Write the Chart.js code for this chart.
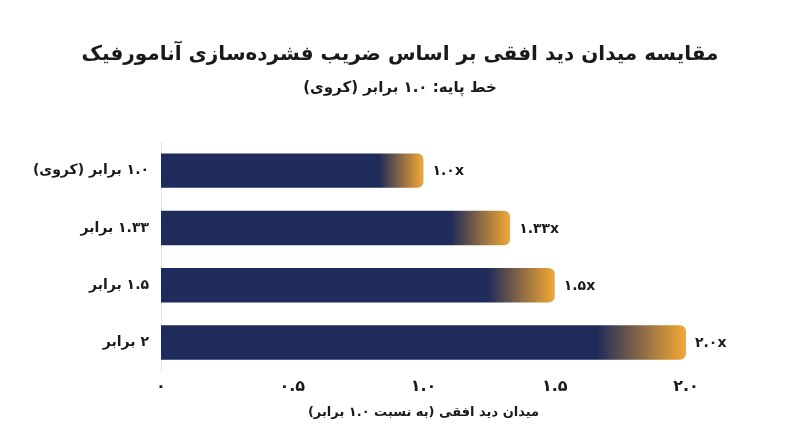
<!DOCTYPE html>
<html>
<head>
<meta charset="utf-8">
<script src="https://cdn.jsdelivr.net/npm/chart.js@4/dist/chart.umd.min.js"></script>
<style>
html,body{margin:0;padding:0;background:#fff;}
#wrap{width:800px;height:447px;}
</style>
</head>
<body>
<div id="wrap"><canvas id="c" dir="rtl"></canvas></div>
<script>
const categories = ['۱.۰ برابر (کروی)', '۱.۳۳ برابر', '۱.۵ برابر', '۲ برابر'];
const values = [1.0, 1.33, 1.5, 2.0];
const valueLabels = ['۱.۰x', '۱.۳۳x', '۱.۵x', '۲.۰x'];
const xTickValues = [0, 0.5, 1.0, 1.5, 2.0];
const xTickLabels = ['۰', '۰.۵', '۱.۰', '۱.۵', '۲.۰'];
const titleText = 'مقایسه میدان دید افقی بر اساس ضریب فشرده‌سازی آنامورفیک';
const subtitleText = 'خط پایه: ۱.۰ برابر (کروی)';
const xTitleText = 'میدان دید افقی (به نسبت ۱.۰ برابر)';

const NAVY = '#1f2b5a';
const ORANGE = '#f5a935';
const TEXT = '#1a1a1a';
const FONT = "'DejaVu Sans', sans-serif";

const valueLabelPlugin = {
  id: 'valueLabels',
  afterDatasetsDraw(chart) {
    const ctx = chart.ctx;
    const meta = chart.getDatasetMeta(0);
    ctx.save();
    ctx.direction = 'ltr';
    ctx.font = "bold 14px " + FONT;
    ctx.fillStyle = TEXT;
    ctx.textAlign = 'left';
    ctx.textBaseline = 'middle';
    meta.data.forEach((bar, i) => {
      ctx.fillText(valueLabels[i], bar.x + 9, bar.y + 1);
    });
    ctx.restore();
  }
};

new Chart(document.getElementById('c'), {
  type: 'bar',
  data: {
    labels: categories,
    datasets: [{
      data: values,
      backgroundColor(context) {
        const chart = context.chart;
        if (!chart.chartArea) return NAVY;
        const xs = chart.scales.x;
        const v = context.raw;
        const x0 = xs.getPixelForValue(0);
        const x1 = xs.getPixelForValue(v);
        const g = chart.ctx.createLinearGradient(x0, 0, x1, 0);
        g.addColorStop(0, NAVY);
        g.addColorStop(0.83, NAVY);
        g.addColorStop(1, ORANGE);
        return g;
      },
      borderRadius: 6,
      borderSkipped: 'start',
      barPercentage: 0.75,
      categoryPercentage: 0.8
    }]
  },
  options: {
    indexAxis: 'y',
    responsive: true,
    maintainAspectRatio: false,
    animation: false,
    layout: { padding: { left: 0, right: 0, top: 0, bottom: 23 } },
    plugins: {
      legend: { display: false },
      tooltip: { enabled: false },
      title: {
        display: true,
        text: titleText,
        color: TEXT,
        font: { family: FONT, size: 20, weight: 'bold' },
        padding: { top: 43, bottom: 12 }
      },
      subtitle: {
        display: true,
        text: subtitleText,
        color: TEXT,
        font: { family: FONT, size: 15, weight: 'bold' },
        padding: { top: 0, bottom: 45 }
      }
    },
    scales: {
      x: {
        min: 0,
        max: 2,
        afterBuildTicks(scale) {
          scale.ticks = xTickValues.map(v => ({ value: v }));
        },
        ticks: {
          color: TEXT,
          font: { family: FONT, size: 16, weight: 'bold' },
          padding: 6,
          maxRotation: 0,
          callback(value) {
            const i = xTickValues.indexOf(value);
            return i >= 0 ? xTickLabels[i] : '';
          }
        },
        grid: { display: false, drawTicks: false },
        border: { display: false },
        title: {
          display: true,
          text: xTitleText,
          color: TEXT,
          font: { family: FONT, size: 13, weight: 'bold' },
          padding: { top: 2, bottom: 4 }
        }
      },
      y: {
        afterFit(scale) { scale.width = 161; },
        ticks: {
          color: TEXT,
          font: { family: FONT, size: 14, weight: 'bold' },
          padding: 12
        },
        grid: { display: false, drawTicks: false },
        border: { display: true, color: '#e2e2e2', width: 1 }
      },
      yRight: {
        type: 'category',
        position: 'right',
        display: true,
        afterFit(scale) { scale.width = 114; },
        ticks: { display: false },
        grid: { display: false, drawTicks: false },
        border: { display: false }
      }
    }
  },
  plugins: [valueLabelPlugin]
});
</script>
</body>
</html>
